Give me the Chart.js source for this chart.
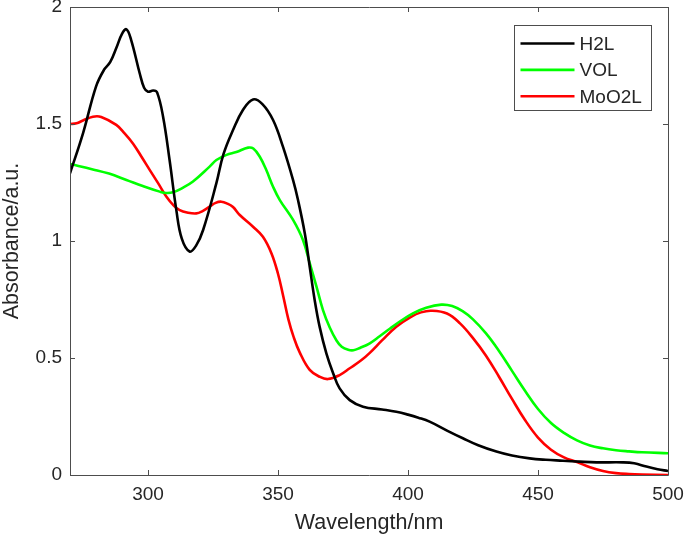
<!DOCTYPE html>
<html>
<head>
<meta charset="utf-8">
<script src="https://cdn.jsdelivr.net/npm/chart.js@4/dist/chart.umd.min.js"></script>
<style>
  html, body { margin: 0; padding: 0; background: #ffffff; }
  #wrap { width: 685px; height: 538px; }
</style>
</head>
<body>
<div id="wrap"><canvas id="c" width="685" height="538"></canvas></div>
<script>
// ---- Data ----
const seriesLabels = ['H2L', 'VOL', 'MoO2L'];
const seriesColors = ['#000000', '#00ff00', '#ff0000'];

const h2lWavelength = [270, 275, 280, 283, 285.5, 288, 290, 291.7, 293.5, 296.8, 298.5, 300, 302, 303.5, 305.8, 308.3, 310.9, 313, 316, 318.5, 321.2, 326.3, 329, 332.7, 336.5, 340.4, 344, 348.1, 351.9, 355.8, 357.7, 360.3, 362.2, 364.1, 366, 368.6, 371.2, 373.7, 377.6, 382.7, 390, 395.5, 400, 404, 408.3, 415, 421.1, 427, 434, 440, 446.8, 453, 459.6, 466, 472.5, 482.7, 487, 491.7, 496, 500];
const h2lAbs = [1.289, 1.46, 1.66, 1.73, 1.765, 1.83, 1.885, 1.905, 1.86, 1.717, 1.655, 1.638, 1.643, 1.635, 1.531, 1.346, 1.132, 1.01, 0.955, 0.98, 1.047, 1.247, 1.37, 1.474, 1.56, 1.605, 1.585, 1.517, 1.403, 1.26, 1.175, 1.033, 0.89, 0.748, 0.634, 0.52, 0.435, 0.37, 0.32, 0.292, 0.28, 0.27, 0.258, 0.245, 0.228, 0.19, 0.157, 0.127, 0.1, 0.083, 0.071, 0.065, 0.061, 0.057, 0.054, 0.054, 0.05, 0.036, 0.025, 0.017];

const volWavelength = [270, 278.8, 285, 291.7, 298, 304.5, 307, 309.6, 313, 317.3, 323.7, 326.3, 330.2, 334, 338.5, 340.5, 343, 345.5, 348.1, 350.7, 355.8, 359.6, 362.2, 364.8, 367.3, 369.9, 372.5, 374.5, 377, 379, 381.5, 385.3, 389.1, 393, 397, 401.9, 407, 412.8, 417, 421, 425, 430, 435, 440, 445, 450, 455, 460, 465, 470, 475, 480, 485, 490, 500];
const volAbs = [1.329, 1.306, 1.288, 1.261, 1.235, 1.211, 1.205, 1.208, 1.225, 1.254, 1.318, 1.346, 1.368, 1.38, 1.399, 1.395, 1.36, 1.303, 1.232, 1.175, 1.09, 1.004, 0.905, 0.805, 0.705, 0.63, 0.575, 0.548, 0.535, 0.533, 0.543, 0.563, 0.593, 0.625, 0.657, 0.691, 0.715, 0.728, 0.722, 0.7, 0.665, 0.605, 0.53, 0.445, 0.36, 0.282, 0.222, 0.18, 0.148, 0.126, 0.114, 0.106, 0.101, 0.097, 0.093];

const moWavelength = [270, 272.5, 275, 278.8, 282, 287.8, 291, 294.2, 297.5, 300.7, 304, 307.1, 310, 312.2, 315, 318.6, 321, 323.7, 326, 328.2, 330.5, 332.7, 335.3, 340.4, 344.2, 347.5, 350, 352, 354, 356, 358.3, 362.2, 366, 369.2, 373.7, 377.6, 382, 385.3, 390, 395.5, 401, 405, 409, 415, 420, 425, 430, 435, 440, 445, 450, 455, 460, 465, 470, 475, 480, 485, 490, 500];
const moAbs = [1.5, 1.503, 1.515, 1.531, 1.53, 1.496, 1.46, 1.417, 1.36, 1.303, 1.245, 1.189, 1.15, 1.132, 1.122, 1.118, 1.128, 1.147, 1.163, 1.168, 1.16, 1.145, 1.111, 1.061, 1.018, 0.947, 0.86, 0.765, 0.665, 0.59, 0.525, 0.449, 0.42, 0.41, 0.427, 0.456, 0.49, 0.522, 0.575, 0.634, 0.675, 0.695, 0.702, 0.69, 0.648, 0.585, 0.51, 0.42, 0.325, 0.235, 0.16, 0.108, 0.075, 0.055, 0.033, 0.017, 0.008, 0.004, 0.002, 0];

const xTickValues = [300, 350, 400, 450, 500];
const yTickValues = [0, 0.5, 1, 1.5, 2];
const xRange = [270, 500];
const yRange = [0, 2];
const xTitle = 'Wavelength/nm';
const yTitle = 'Absorbance/a.u.';

// ---- Build datasets ----
const pairs = [[h2lWavelength, h2lAbs], [volWavelength, volAbs], [moWavelength, moAbs]];
const datasets = pairs.map(([xs, ys], i) => ({
  label: seriesLabels[i],
  data: xs.map((x, j) => ({ x: x, y: ys[j] })),
  borderColor: seriesColors[i],
  backgroundColor: seriesColors[i],
  borderWidth: 2.6,
  pointRadius: 0,
  fill: false,
  tension: 0.4
}));

const FONT = "'Liberation Sans', Arial, sans-serif";
const TEXT = '#262626';
const AXIS = '#4d4d4d';

// Frame + inward ticks on all four sides
const framePlugin = {
  id: 'frame',
  afterDatasetsDraw(chart) {
    const { ctx, chartArea: a, scales } = chart;
    const tl = 5;
    ctx.save();
    ctx.strokeStyle = AXIS;
    ctx.lineWidth = 1;
    ctx.beginPath();
    ctx.rect(Math.round(a.left) + 0.5, Math.round(a.top) + 0.5, Math.round(a.right - a.left), Math.round(a.bottom - a.top));
    ctx.stroke();
    ctx.beginPath();
    xTickValues.forEach(v => {
      const px = Math.round(scales.x.getPixelForValue(v)) + 0.5;
      ctx.moveTo(px, a.bottom); ctx.lineTo(px, a.bottom - tl);
      ctx.moveTo(px, a.top); ctx.lineTo(px, a.top + tl);
    });
    yTickValues.forEach(v => {
      const py = Math.round(scales.y.getPixelForValue(v)) + 0.5;
      ctx.moveTo(a.left, py); ctx.lineTo(a.left + tl, py);
      ctx.moveTo(a.right, py); ctx.lineTo(a.right - tl, py);
    });
    ctx.stroke();
    ctx.restore();
  }
};

// Boxed legend inside the plot, top right
const legendBoxPlugin = {
  id: 'legendBox',
  afterDraw(chart) {
    const { ctx, chartArea: a } = chart;
    const boxW = 137, boxH = 85;
    const bx = Math.round(a.right - 17 - boxW) + 0.5;
    const by = Math.round(a.top + 18) + 0.5;
    ctx.save();
    ctx.fillStyle = '#ffffff';
    ctx.fillRect(bx, by, boxW, boxH);
    ctx.strokeStyle = AXIS;
    ctx.lineWidth = 1;
    ctx.strokeRect(bx, by, boxW, boxH);
    ctx.font = '19px ' + FONT;
    ctx.textBaseline = 'middle';
    ctx.textAlign = 'left';
    chart.data.datasets.forEach((ds, i) => {
      const cy = by + 18 + i * 26.4;
      ctx.strokeStyle = ds.borderColor;
      ctx.lineWidth = 2.6;
      ctx.beginPath();
      ctx.moveTo(bx + 6, cy);
      ctx.lineTo(bx + 60, cy);
      ctx.stroke();
      ctx.fillStyle = TEXT;
      ctx.fillText(ds.label, bx + 65, cy + 1);
    });
    ctx.restore();
  }
};

new Chart(document.getElementById('c'), {
  type: 'line',
  data: { datasets: datasets },
  options: {
    responsive: false,
    animation: false,
    devicePixelRatio: 1,
    layout: { padding: { left: 0, right: 17, top: 7, bottom: 0 } },
    plugins: { legend: { display: false }, tooltip: { enabled: false } },
    scales: {
      x: {
        type: 'linear',
        min: xRange[0], max: xRange[1],
        grid: { display: false, drawTicks: false },
        border: { display: false },
        afterBuildTicks(scale) { scale.ticks = xTickValues.map(v => ({ value: v })); },
        afterFit(scale) { scale.height = 63; scale.paddingLeft = 0; scale.paddingRight = 0; },
        ticks: { color: TEXT, font: { family: FONT, size: 19 }, padding: 8, maxRotation: 0, autoSkip: false, callback: v => String(v) },
        title: { display: true, text: xTitle, color: TEXT, font: { family: FONT, size: 21.5, lineHeight: 1 }, padding: { top: 0, bottom: 4 } }
      },
      y: {
        type: 'linear',
        min: yRange[0], max: yRange[1],
        grid: { display: false, drawTicks: false },
        border: { display: false },
        afterBuildTicks(scale) { scale.ticks = yTickValues.map(v => ({ value: v })); },
        afterFit(scale) { scale.width = 70; scale.paddingTop = 0; scale.paddingBottom = 0; },
        ticks: { color: TEXT, font: { family: FONT, size: 19 }, padding: 8, autoSkip: false, callback: v => String(v) },
        title: { display: true, text: yTitle, color: TEXT, font: { family: FONT, size: 21.5, lineHeight: 1 }, padding: { top: 1, bottom: 0 } }
      }
    }
  },
  plugins: [framePlugin, legendBoxPlugin]
});
</script>
</body>
</html>
